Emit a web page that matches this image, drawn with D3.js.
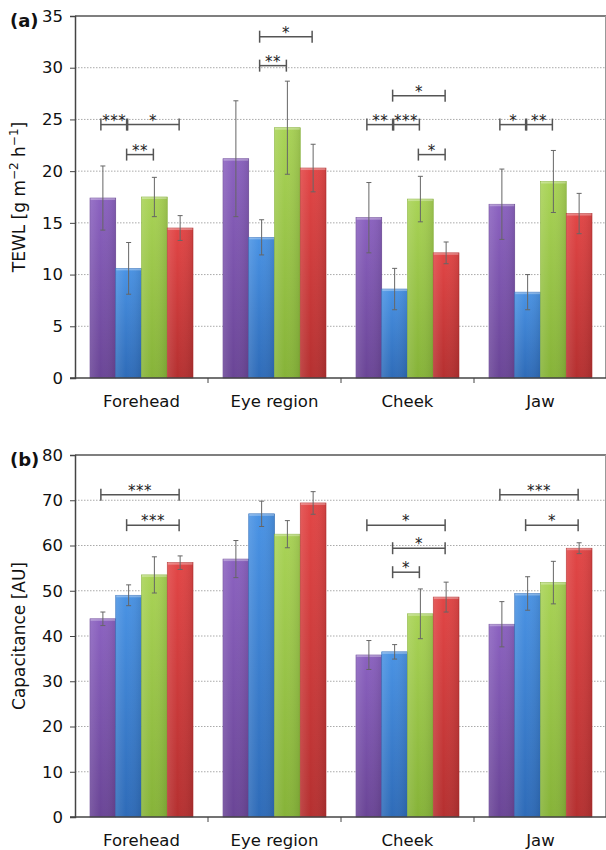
<!DOCTYPE html>
<html>
<head>
<meta charset="utf-8">
<script src="https://cdn.jsdelivr.net/npm/d3@7"></script>
<style>
  body { margin: 0; background: #fff; }
  svg { font-family: "DejaVu Sans", Verdana, sans-serif; }
</style>
</head>
<body>
<script>
// categories & groups
let regions = ["Forehead", "Eye region", "Cheek", "Jaw"]
let groups = ["g1", "g2", "g3", "g4"]

// (a) TEWL, mean and sd per region, one value per group
let tewlMean = [[17.4, 10.6, 17.5, 14.5], [21.2, 13.6, 24.2, 20.3], [15.5, 8.6, 17.3, 12.1], [16.8, 8.3, 19.0, 15.9]]
let tewlSd = [[3.1, 2.5, 1.9, 1.2], [5.6, 1.7, 4.5, 2.3], [3.4, 2.0, 2.2, 1.05], [3.4, 1.7, 3.0, 1.95]]
let tewlTicks = [0, 5, 10, 15, 20, 25, 30, 35]
// significance: region, from group, to group, height, stars
let tewlSig = [
  [0, 0, 1, 24.5, "***"], [0, 1, 3, 24.5, "*"], [0, 1, 2, 21.6, "**"],
  [1, 1, 3, 33.0, "*"], [1, 1, 2, 30.2, "**"],
  [2, 0, 1, 24.5, "**"], [2, 1, 2, 24.5, "***"], [2, 1, 3, 27.3, "*"], [2, 2, 3, 21.6, "*"],
  [3, 0, 1, 24.5, "*"], [3, 1, 2, 24.5, "**"]
]

// (b) capacitance
let capMean = [[43.8, 49.0, 53.5, 56.2], [57.0, 67.0, 62.5, 69.4], [35.8, 36.5, 44.9, 48.6], [42.6, 49.4, 51.8, 59.4]]
let capSd = [[1.5, 2.3, 4.0, 1.5], [4.1, 2.8, 3.0, 2.5], [3.2, 1.6, 5.5, 3.3], [5.0, 3.7, 4.7, 1.2]]
let capTicks = [0, 10, 20, 30, 40, 50, 60, 70, 80]
let capSig = [
  [0, 0, 3, 71.2, "***"], [0, 1, 3, 64.5, "***"],
  [2, 0, 3, 64.5, "*"], [2, 1, 3, 59.4, "*"], [2, 1, 2, 54.1, "*"],
  [3, 0, 3, 71.2, "***"], [3, 1, 3, 64.5, "*"]
]

// colors: [top, bottom]
let colors = [["#8b62c0", "#6a4596"], ["#4a93e4", "#2e6bb8"], ["#a9d356", "#86b338"], ["#e24646", "#b53030"]]

let W = 606, H = 850
let svg = d3.select("body").append("svg").attr("width", W).attr("height", H)

let defs = svg.append("defs")
colors.forEach((c, i) => {
  let g = defs.append("linearGradient").attr("id", "grad" + i)
    .attr("x1", 0).attr("y1", 0).attr("x2", 0).attr("y2", 1)
  g.append("stop").attr("offset", "0%").attr("stop-color", c[0])
  g.append("stop").attr("offset", "100%").attr("stop-color", c[1])
  let h = defs.append("linearGradient").attr("id", "side" + i)
    .attr("x1", 0).attr("y1", 0).attr("x2", 1).attr("y2", 0)
  h.append("stop").attr("offset", "0%").attr("stop-color", "#fff").attr("stop-opacity", 0.12)
  h.append("stop").attr("offset", "40%").attr("stop-color", "#fff").attr("stop-opacity", 0)
  h.append("stop").attr("offset", "100%").attr("stop-color", "#000").attr("stop-opacity", 0.1)
})

let left = 75, right = 607

let x0 = d3.scaleBand().domain(regions).range([left, right])
let x1 = d3.scaleBand().domain(groups).range([15, 118])

function panel(top, bottom, ticks, means, sds, sig, label, yTitle) {
  let y = d3.scaleLinear().domain([0, d3.max(ticks)]).range([bottom, top])
  let g = svg.append("g")

  // gridlines
  g.selectAll(".grid")
    .data(ticks.slice(1, -1))
    .enter().append("line")
    .attr("x1", left).attr("x2", right)
    .attr("y1", d => y(d)).attr("y2", d => y(d))
    .attr("stroke", "#aaa").attr("stroke-dasharray", "1.5,1.5")

  // frame top & right
  g.append("line").attr("x1", left).attr("x2", right)
    .attr("y1", y(d3.max(ticks))).attr("y2", y(d3.max(ticks)))
    .attr("stroke", "#555").attr("stroke-width", 1.5)
  g.append("line").attr("x1", 605.5).attr("x2", 605.5)
    .attr("y1", top).attr("y2", bottom)
    .attr("stroke", "#999")

  // bars
  regions.forEach((r, ri) => {
    let rg = g.append("g").attr("transform", "translate(" + x0(r) + ",0)")
    groups.forEach((s, si) => {
      let v = means[ri][si], sd = sds[ri][si]
      let bx = x1(s), bw = x1.bandwidth()
      rg.append("rect")
        .attr("x", bx).attr("y", y(v))
        .attr("width", bw).attr("height", y(0) - y(v))
        .attr("fill", "url(#grad" + si + ")")
        .attr("stroke", colors[si][1]).attr("stroke-width", 0.6)
      rg.append("rect")
        .attr("x", bx).attr("y", y(v))
        .attr("width", bw).attr("height", y(0) - y(v))
        .attr("fill", "url(#side" + si + ")")
      rg.append("rect")
        .attr("x", bx + 0.5).attr("y", y(v))
        .attr("width", bw - 1).attr("height", 2)
        .attr("fill", "#fff").attr("opacity", 0.3)
      // error bar
      let cx = bx + bw / 2
      rg.append("line").attr("x1", cx).attr("x2", cx)
        .attr("y1", y(v - sd)).attr("y2", y(v + sd))
        .attr("stroke", "#666").attr("stroke-width", 1)
      ;[v - sd, v + sd].forEach(e => {
        rg.append("line").attr("x1", cx - 2.5).attr("x2", cx + 2.5)
          .attr("y1", y(e)).attr("y2", y(e))
          .attr("stroke", "#666").attr("stroke-width", 1)
      })
    })
  })

  // y axis
  let yAxis = d3.axisLeft(y).tickValues(ticks).tickSize(5).tickPadding(7)
  let ya = g.append("g").attr("transform", "translate(" + left + ",0)").call(yAxis)
  ya.select(".domain").attr("stroke", "#444").attr("stroke-width", 1.5)
  ya.selectAll(".tick line").attr("stroke", "#444")
  ya.selectAll("text").attr("font-size", 16.5).attr("fill", "#111")
    .attr("font-family", "DejaVu Sans")

  // x axis
  let xa = g.append("g").attr("transform", "translate(0," + bottom + ")")
  xa.append("line").attr("x1", left - 5).attr("x2", right).attr("stroke", "#444").attr("stroke-width", 1.5)
  xa.selectAll(".sep")
    .data(regions.slice(1))
    .enter().append("line")
    .attr("x1", d => x0(d)).attr("x2", d => x0(d))
    .attr("y1", 0).attr("y2", 5)
    .attr("stroke", "#444")
  xa.selectAll(".lab")
    .data(regions)
    .enter().append("text")
    .attr("x", d => x0(d) + x0.bandwidth() / 2)
    .attr("y", 29)
    .attr("text-anchor", "middle")
    .attr("font-size", 16.5).attr("fill", "#111")
    .text(d => d)

  // significance brackets
  sig.forEach(d => {
    let base = x0(regions[d[0]])
    let xa1 = base + x1(groups[d[1]]) + x1.bandwidth() / 2 - 2
    let xa2 = base + x1(groups[d[2]]) + x1.bandwidth() / 2 - 1
    let yy = y(d[3])
    let b = g.append("g").attr("stroke", "#555").attr("stroke-width", 1.5)
    b.append("line").attr("x1", xa1).attr("x2", xa2).attr("y1", yy).attr("y2", yy)
    b.append("line").attr("x1", xa1).attr("x2", xa1).attr("y1", yy - 6).attr("y2", yy + 6)
    b.append("line").attr("x1", xa2).attr("x2", xa2).attr("y1", yy - 6).attr("y2", yy + 6)
    g.append("text")
      .attr("x", (xa1 + xa2) / 2).attr("y", yy + 1)
      .attr("text-anchor", "middle")
      .attr("font-size", 15).attr("letter-spacing", 0.5).attr("fill", "#222")
      .text(d[4])
  })

  // panel label
  g.append("text").attr("x", 10).attr("y", top + 11)
    .attr("font-size", 18).attr("font-weight", "bold").attr("fill", "#111")
    .text(label)

  // y title
  let t = g.append("text")
    .attr("transform", "translate(25," + (top + bottom) / 2 + ") rotate(-90)")
    .attr("text-anchor", "middle")
    .attr("font-size", 17).attr("fill", "#111")
  yTitle.forEach(p => {
    let ts = t.append("tspan").text(p[0])
    if (p[1]) ts.attr("font-size", 12).attr("dy", -7)
    else if (p[2]) ts.attr("dy", 7)
  })
}

panel(16, 378, tewlTicks, tewlMean, tewlSd, tewlSig, "(a)",
  [["TEWL [g m"], ["\u22122", true], [" h", false, true], ["\u22121", true], ["]", false, true]])
panel(455, 817, capTicks, capMean, capSd, capSig, "(b)", [["Capacitance [AU]"]])
</script>
</body>
</html>
